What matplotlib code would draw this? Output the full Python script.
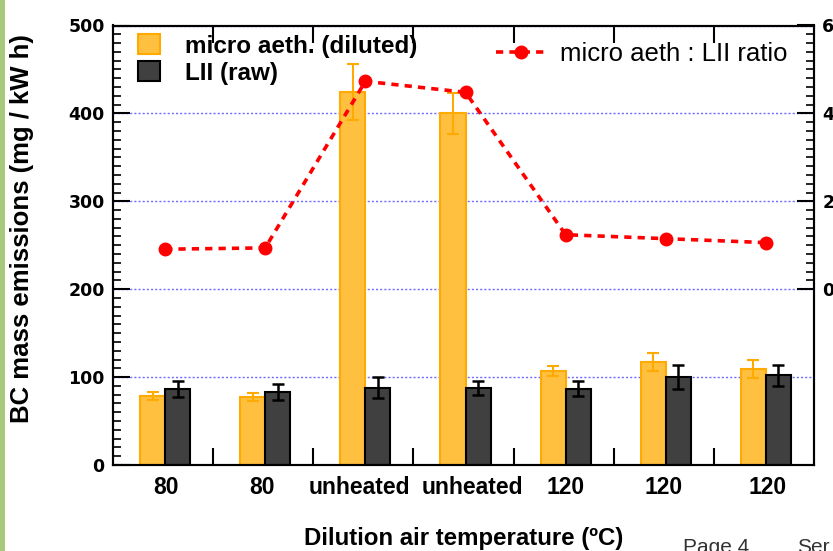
import numpy as np
import matplotlib.pyplot as plt
from matplotlib.patches import Patch, Rectangle
from matplotlib.lines import Line2D
from matplotlib.ticker import MultipleLocator, FixedLocator

# dilution air temperature for each run
temps = ['80', '80', 'unheated', 'unheated', '120', '120', '120']

# BC mass emissions (mg / kW h)
aeth = [78.6, 77.4, 424, 400, 107, 117, 109]
aeth_err = [5, 4.5, 32, 23, 6, 10.5, 10]
lii = [86, 83, 88, 88, 87, 100, 102]
lii_err = [9, 9, 12, 8, 8, 14, 12]

# micro aeth : LII ratio
ratio = [0.91, 0.94, 4.73, 4.48, 1.24, 1.15, 1.06]

ARIAL = ['Liberation Sans', 'DejaVu Sans']

fig = plt.figure(figsize=(8.33, 5.51), dpi=100)
ax = fig.add_axes([113 / 833, 1 - 465 / 551, (814 - 113) / 833, (465 - 25.5) / 551])

centers = np.arange(len(temps)) + 0.52
w = 0.25

ax.bar(centers - w / 2, aeth, w, color='#FFC040', edgecolor='#FFAA00', linewidth=1.5, zorder=2)
ax.errorbar(centers - w / 2, aeth, yerr=aeth_err, fmt='none', ecolor='#FFAA00',
            elinewidth=1.5, capsize=4.5, capthick=1.5, zorder=3)
ax.bar(centers + w / 2, lii, w, color='#404040', edgecolor='black', linewidth=1.5, zorder=2)
ax.errorbar(centers + w / 2, lii, yerr=lii_err, fmt='none', ecolor='black',
            elinewidth=1.8, capsize=4.5, capthick=1.8, zorder=3)

ax.set_xlim(0, 7)
ax.set_ylim(0, 500)
ax.yaxis.set_major_locator(MultipleLocator(100))
ax.yaxis.set_minor_locator(MultipleLocator(10))
ax.yaxis.grid(True, which='major', color='#6b6bff', linestyle=(0, (1.5, 1.5)), linewidth=1)
ax.set_axisbelow(True)

# group boundaries get the ticks, the labels sit (roughly) under each pair of bars
label_nudge = np.array([0.01, -0.03, -0.06, 0.07, 0.0, -0.02, 0.02])
ax.set_xticks(np.arange(1, 7))
ax.set_xticklabels([])
ax.set_xticks(centers + label_nudge, minor=True)
ax.set_xticklabels(temps, minor=True, fontfamily=ARIAL, fontweight='bold', fontsize=16.5)
ax.tick_params(axis='x', which='major', direction='in', length=12, width=1.5, top=True)
ax.tick_params(axis='x', which='minor', length=0, pad=8)
ax.tick_params(axis='y', which='major', direction='in', length=12, width=1.5, pad=6,
               labelsize=12.5, right=False)
ax.tick_params(axis='y', which='minor', direction='in', length=6, width=1.2, right=False)
for lab in ax.get_yticklabels():
    lab.set_fontweight('bold')
    lab.set_fontfamily('DejaVu Sans')

for s in ax.spines.values():
    s.set_linewidth(1.5)

ax.set_ylabel('BC mass emissions (mg / kW h)', fontfamily=ARIAL, fontweight='bold',
              fontsize=18.5)
ax.yaxis.set_label_coords(-0.112, 0.539)
ax.set_xlabel('Dilution air temperature (ºC)', fontfamily=ARIAL, fontweight='bold',
              fontsize=17.3)
ax.xaxis.set_label_coords(0.5, -0.141)

ax.legend(handles=[Patch(facecolor='#FFC040', edgecolor='#FFAA00', linewidth=1.5),
                   Patch(facecolor='#404040', edgecolor='black', linewidth=1.5)],
          labels=['micro aeth. (diluted)', 'LII (raw)'],
          loc='upper left', bbox_to_anchor=(0.005, 1.03), frameon=False,
          prop={'family': ARIAL, 'weight': 'bold', 'size': 17.5},
          handlelength=0.9, handleheight=0.9, handletextpad=1.0, labelspacing=0.15)

# ratio on the right-hand axis
ax2 = ax.twinx()
ax2.plot(centers, ratio, color='red', linestyle=(0, (2.0, 1.7)), linewidth=2.6,
         marker='o', markersize=9, zorder=4)
ax2.set_ylim(-4, 6)
ax2.yaxis.set_major_locator(FixedLocator([0, 2, 4, 6]))
ax2.yaxis.set_minor_locator(FixedLocator(np.arange(0, 6.01, 0.2)))
ax2.tick_params(axis='y', which='major', direction='in', length=12, width=1.5, pad=6,
                labelsize=12.5)
ax2.tick_params(axis='y', which='minor', direction='in', length=6, width=1.2)
for lab in ax2.get_yticklabels():
    lab.set_fontweight('bold')
    lab.set_fontfamily('DejaVu Sans')
for s in ax2.spines.values():
    s.set_linewidth(1.5)

ax2.legend(handles=[Line2D([], [], color='red', linestyle=(0, (2.0, 1.7)), linewidth=2.6,
                           marker='o', markersize=9)],
           labels=['micro aeth : LII ratio'], loc='upper right',
           bbox_to_anchor=(0.995, 1.014), frameon=False,
           prop={'family': ARIAL, 'size': 18.5}, handlelength=2.0, handletextpad=0.5)

# slide decoration: green edge strip and footer
fig.patches.append(Rectangle((0, 0), 5 / 833, 1, transform=fig.transFigure,
                             facecolor='#a9c97a', edgecolor='none'))
fig.text(683 / 833, 1 - 538 / 551, 'Page 4', fontfamily=ARIAL, fontsize=15,
         color='#333333', va='top', ha='left')
fig.text(797 / 833, 1 - 538 / 551, 'Ser', fontfamily=ARIAL, fontsize=15,
         color='#333333', va='top', ha='left')

fig.savefig('out.png', dpi=100)
